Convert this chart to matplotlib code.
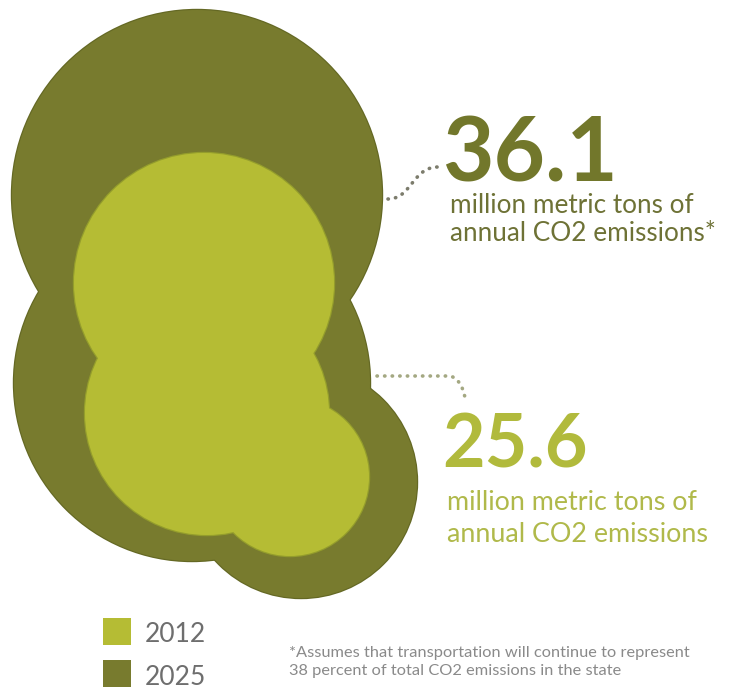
import matplotlib
matplotlib.use("Agg")
import matplotlib.pyplot as plt
from matplotlib.patches import Circle, Rectangle, PathPatch
from matplotlib.path import Path

# ---- data ----
years = ["2012", "2025"]
values = [25.6, 36.1]
desc_lines = ["million metric tons of", "annual CO2 emissions"]
footnote_lines = ["*Assumes that transportation will continue to represent",
                  "38 percent of total CO2 emissions in the state"]

# ---- style / layout ----
fill_colors = {"2012": "#b5bc34", "2025": "#787b2e"}
rim_colors = {"2012": "#949d2c", "2025": "#646824"}
num_colors = {"2012": "#b1ba3c", "2025": "#72772b"}
desc_colors = {"2012": "#b0b94a", "2025": "#6e7236"}
# blob geometry (x, y, r) in pixel space
blobs = {
    "2025": [(197, 195, 185), (192, 383, 178), (301, 482, 116)],
    "2012": [(204, 283, 130), (207, 413, 122), (290, 477, 79)],
}
W, H = 732, 689
fig = plt.figure(figsize=(W / 100, H / 100), dpi=100)
ax = fig.add_axes([0, 0, 1, 1])
ax.set_xlim(0, W)
ax.set_ylim(H, 0)
ax.set_aspect("equal")
ax.axis("off")

z = 1
for yr in ["2025", "2012"]:
    for (x, y, r) in blobs[yr]:
        ax.add_patch(Circle((x, y), r + 1.2, facecolor=rim_colors[yr], edgecolor="none", zorder=z))
    for (x, y, r) in blobs[yr]:
        ax.add_patch(Circle((x, y), r, facecolor=fill_colors[yr], edgecolor="none", zorder=z + 1))
    z += 2

FONT = ["Lato", "DejaVu Sans"]

# value labels
num_pos = {"2025": (442, 182, 64), "2012": (442, 467, 53)}
desc_pos = {"2025": (450, 213, 241, 18.8), "2012": (447, 510, 542, 19.4)}
for yr, v in zip(years, values):
    x, yb, fs = num_pos[yr]
    ax.text(x, yb, f"{v:.1f}", fontsize=fs, fontweight="bold", color=num_colors[yr],
            ha="left", va="baseline", family=FONT, zorder=10)
    dx, y1, y2, dfs = desc_pos[yr]
    l2 = desc_lines[1] + ("*" if yr == "2025" else "")
    ax.text(dx, y1, desc_lines[0], fontsize=dfs, color=desc_colors[yr], ha="left",
            va="baseline", family=FONT, zorder=10)
    ax.text(dx, y2, l2, fontsize=dfs, color=desc_colors[yr], ha="left",
            va="baseline", family=FONT, zorder=10)

# dotted connectors
p1 = Path([(388, 199), (412, 199), (412, 167), (438, 167)],
          [Path.MOVETO, Path.CURVE4, Path.CURVE4, Path.CURVE4])
ax.add_patch(PathPatch(p1, facecolor="none", edgecolor="#7c7c6c", lw=2.6,
                       linestyle=(0, (0.1, 2.0)), capstyle="round", zorder=9))
p2 = Path([(377, 376), (448, 376), (457, 376), (463, 386), (465, 398)],
          [Path.MOVETO, Path.LINETO, Path.CURVE4, Path.CURVE4, Path.CURVE4])
ax.add_patch(PathPatch(p2, facecolor="none", edgecolor="#a4a882", lw=2.6,
                       linestyle=(0, (0.1, 2.0)), capstyle="round", zorder=9))

# legend
leg_y = {"2012": (618, 642), "2025": (660, 685)}
for yr in years:
    top, base = leg_y[yr]
    ax.add_patch(Rectangle((103, top), 28, 27, facecolor=fill_colors[yr], edgecolor="none", zorder=10))
    ax.text(145, base, yr, fontsize=19, color="#6e6e6e", ha="left", va="baseline",
            family=FONT, zorder=10)

# footnote
for i, line in enumerate(footnote_lines):
    ax.text(289, 657 + 18 * i, line, fontsize=11.8, color="#8a8a8a", ha="left",
            va="baseline", family=FONT, zorder=10)

fig.savefig("out.png", dpi=100, facecolor="white")
